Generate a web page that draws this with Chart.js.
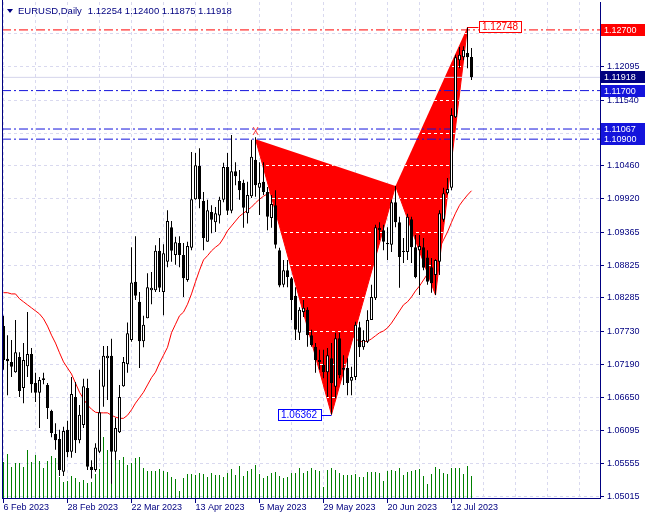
<!DOCTYPE html>
<html>
<head>
<meta charset="utf-8">
<script src="https://cdn.jsdelivr.net/npm/chart.js@4.4.0/dist/chart.umd.min.js"></script>
<style>
  html, body { margin: 0; padding: 0; background: #ffffff; }
  #wrap { width: 646px; height: 520px; }
</style>
</head>
<body>
<div id="wrap"><canvas id="chart" width="646" height="520"></canvas></div>
<script>
const symbolTitle = 'EURUSD,Daily';
const lastQuote = ['1.12254', '1.12400', '1.11875', '1.11918'];

// one label every 16 daily bars, starting at bar 0
const dateLabels = ['6 Feb 2023', '28 Feb 2023', '22 Mar 2023', '13 Apr 2023', '5 May 2023', '29 May 2023', '20 Jun 2023', '12 Jul 2023'];
const priceTicks = [1.05015, 1.05555, 1.06095, 1.06650, 1.07190, 1.07730, 1.08285, 1.08825, 1.09365, 1.09920, 1.10460, 1.11000, 1.11540, 1.12095, 1.12635];

const opens = [
  1.0782, 1.0728, 1.0723, 1.0706, 1.0731, 1.0680, 1.0716, 1.0736, 1.0688, 1.0672,
  1.0693, 1.0685, 1.0642, 1.0604, 1.0596, 1.0542, 1.0611, 1.0575, 1.0665, 1.0594,
  1.0619, 1.0680, 1.0550, 1.0545, 1.0575, 1.0682, 1.0729, 1.0733, 1.0575, 1.0607,
  1.0683, 1.0719, 1.0759, 1.0855, 1.0822, 1.0757, 1.0795, 1.0841, 1.0841, 1.0906,
  1.0838, 1.0888, 1.0945, 1.0899, 1.0919, 1.0899, 1.0858, 1.0911, 1.0991, 1.1046,
  1.0988, 1.0921, 1.0970, 1.0953, 1.0964, 1.0990, 1.1044, 1.0972, 1.1037, 1.1021,
  1.1018, 1.0968, 1.0996, 1.1056, 1.1010, 1.1020, 1.1003, 1.0960, 1.0981, 1.0907,
  1.0850, 1.0874, 1.0861, 1.0832, 1.0771, 1.0805, 1.0809, 1.0767, 1.0748, 1.0726,
  1.0718, 1.0706, 1.0729, 1.0682, 1.0762, 1.0713, 1.0713, 1.0692, 1.0698, 1.0780,
  1.0747, 1.0756, 1.0792, 1.0828, 1.0944, 1.0940, 1.0917, 1.0916, 1.0986, 1.0953,
  1.0904, 1.0904, 1.0958, 1.0912, 1.0907, 1.0912, 1.0895, 1.0879, 1.0866, 1.0888,
  1.0957, 1.1001, 1.1010, 1.1126, 1.1220, 1.1225, 1.1232, 1.12254
];
const highs = [
  1.0799, 1.0767, 1.0759, 1.0792, 1.0739, 1.0754, 1.0805, 1.0746, 1.0705, 1.0698,
  1.0705, 1.0688, 1.0644, 1.0622, 1.0611, 1.0616, 1.0626, 1.0698, 1.0690, 1.0652,
  1.0695, 1.0695, 1.0561, 1.0589, 1.0710, 1.0749, 1.0749, 1.0761, 1.0631, 1.0685,
  1.0731, 1.0788, 1.0912, 1.0930, 1.0838, 1.0799, 1.0869, 1.0871, 1.0915, 1.0927,
  1.0917, 1.0973, 1.0955, 1.0929, 1.0930, 1.0919, 1.0921, 1.1069, 1.1067, 1.1075,
  1.1003, 1.0990, 1.0981, 1.0978, 1.0995, 1.1051, 1.1067, 1.1097, 1.1052, 1.1039,
  1.1023, 1.1020, 1.1089, 1.1093, 1.1052, 1.1052, 1.1011, 1.0998, 1.1006, 1.0911,
  1.0891, 1.0891, 1.0863, 1.0846, 1.0813, 1.0825, 1.0813, 1.0776, 1.0754, 1.0743,
  1.0743, 1.0746, 1.0754, 1.0771, 1.0771, 1.0734, 1.0729, 1.0715, 1.0789, 1.0789,
  1.0775, 1.0808, 1.0850, 1.0949, 1.0953, 1.0949, 1.0945, 1.0990, 1.1013, 1.0962,
  1.0927, 1.0967, 1.0962, 1.0932, 1.0932, 1.0927, 1.0907, 1.0894, 1.0892, 1.0973,
  1.1010, 1.1026, 1.1141, 1.1229, 1.1242, 1.1243, 1.12748, 1.12400
];
const lows = [
  1.0710, 1.0668, 1.0698, 1.0705, 1.0665, 1.0655, 1.0698, 1.0672, 1.0657, 1.0614,
  1.0686, 1.0629, 1.0599, 1.0578, 1.0535, 1.0535, 1.0566, 1.0565, 1.0573, 1.0589,
  1.0614, 1.0545, 1.0531, 1.0542, 1.0573, 1.0649, 1.0660, 1.0522, 1.0561, 1.0606,
  1.0682, 1.0705, 1.0756, 1.0825, 1.0713, 1.0747, 1.0795, 1.0818, 1.0838, 1.0838,
  1.0800, 1.0879, 1.0888, 1.0883, 1.0879, 1.0830, 1.0855, 1.0907, 1.0990, 1.0976,
  1.0907, 1.0921, 1.0935, 1.0937, 1.0951, 1.0986, 1.0965, 1.0968, 1.1014, 1.0990,
  1.0944, 1.0951, 1.0993, 1.0995, 1.0965, 1.0998, 1.0940, 1.0944, 1.0910, 1.0846,
  1.0846, 1.0846, 1.0792, 1.0759, 1.0759, 1.0797, 1.0748, 1.0748, 1.0705, 1.0710,
  1.0696, 1.0665, 1.06362, 1.0663, 1.0696, 1.0685, 1.0668, 1.0668, 1.0693, 1.0731,
  1.0743, 1.0754, 1.0792, 1.0825, 1.0924, 1.0907, 1.0891, 1.0904, 1.0945, 1.0845,
  1.0886, 1.0891, 1.0886, 1.0861, 1.0833, 1.0874, 1.0850, 1.0837, 1.0833, 1.0866,
  1.0954, 1.0999, 1.1006, 1.1125, 1.1207, 1.1220, 1.1207, 1.11875
];
const closes = [
  1.0726, 1.0724, 1.0715, 1.0739, 1.0675, 1.0726, 1.0736, 1.0686, 1.0672, 1.0693,
  1.0696, 1.0647, 1.0606, 1.0594, 1.0545, 1.0609, 1.0574, 1.0670, 1.0594, 1.0636,
  1.0683, 1.0550, 1.0545, 1.0582, 1.0640, 1.0733, 1.0733, 1.0575, 1.0614, 1.0665,
  1.0723, 1.0770, 1.0854, 1.0832, 1.0757, 1.0784, 1.0846, 1.0845, 1.0906, 1.0845,
  1.0902, 1.0955, 1.0906, 1.0920, 1.0899, 1.0861, 1.0914, 1.0991, 1.1047, 1.0991,
  1.0927, 1.0973, 1.0957, 1.0968, 1.0990, 1.1044, 1.0972, 1.1037, 1.1029, 1.1006,
  1.0977, 1.0998, 1.1061, 1.1014, 1.1018, 1.1003, 1.0962, 1.0983, 1.0916, 1.0849,
  1.0874, 1.0863, 1.0825, 1.0776, 1.0809, 1.0812, 1.0767, 1.0751, 1.0726, 1.0723,
  1.0706, 1.0734, 1.0688, 1.0762, 1.0701, 1.0710, 1.0688, 1.0698, 1.0784, 1.0747,
  1.0759, 1.0792, 1.0830, 1.0945, 1.0940, 1.0921, 1.0919, 1.0986, 1.0953, 1.0896,
  1.0906, 1.0962, 1.0912, 1.0863, 1.0914, 1.0878, 1.0855, 1.0853, 1.0891, 1.0968,
  1.1001, 1.1008, 1.1130, 1.1225, 1.1229, 1.1237, 1.1225, 1.11918
];
const volumes = [
  72000, 88000, 62000, 70000, 70000, 62000, 96000, 72000, 86000, 74000,
  60000, 74000, 84000, 80000, 42000, 32000, 34000, 44000, 40000, 32000,
  36000, 30000, 32000, 48000, 58000, 122000, 96000, 84000, 86000, 76000,
  82000, 66000, 70000, 80000, 82000, 60000, 54000, 54000, 54000, 58000,
  54000, 52000, 42000, 38000, 14000, 40000, 48000, 48000, 46000, 50000,
  48000, 42000, 50000, 46000, 46000, 42000, 50000, 58000, 46000, 64000,
  44000, 54000, 58000, 66000, 48000, 40000, 44000, 50000, 52000, 44000,
  40000, 42000, 50000, 50000, 60000, 50000, 54000, 60000, 56000, 54000,
  22000, 56000, 60000, 56000, 50000, 46000, 46000, 46000, 48000, 42000,
  42000, 52000, 52000, 52000, 50000, 34000, 54000, 56000, 54000, 60000,
  46000, 52000, 54000, 56000, 58000, 44000, 28000, 48000, 62000, 58000,
  50000, 48000, 60000, 60000, 60000, 48000, 64000, 44000
];
const movingAvg = [
  1.0837, 1.0837, 1.0835, 1.0835, 1.0827, 1.0822, 1.0817, 1.0812, 1.0807, 1.0802,
  1.0794, 1.0782, 1.0767, 1.0754, 1.0738, 1.0723, 1.0713, 1.0703, 1.0688, 1.0673,
  1.0662, 1.0652, 1.0645, 1.0640, 1.0639, 1.0639, 1.0639, 1.0635, 1.0632, 1.0630,
  1.0630, 1.0635, 1.0644, 1.0655, 1.0664, 1.0673, 1.0685, 1.0697, 1.0706, 1.0721,
  1.0734, 1.0747, 1.0771, 1.0785, 1.0799, 1.0805, 1.0818, 1.0835, 1.0855, 1.0874,
  1.0891, 1.0898, 1.0906, 1.0912, 1.0917, 1.0927, 1.0939, 1.0947, 1.0955, 1.0963,
  1.0968, 1.0973, 1.0978, 1.0985, 1.0991, 1.0996, 1.1000, 1.1003, 1.1001, 1.0996,
  1.0990, 1.0981, 1.0970, 1.0957, 1.0944, 1.0930, 1.0916, 1.0901, 1.0886, 1.0871,
  1.0856, 1.0841, 1.0827, 1.0812, 1.0799, 1.0787, 1.0776, 1.0767, 1.0761, 1.0757,
  1.0756, 1.0757, 1.0761, 1.0766, 1.0771, 1.0774, 1.0779, 1.0787, 1.0797, 1.0807,
  1.0817, 1.0822, 1.0830, 1.0840, 1.0848, 1.0858, 1.0868, 1.0881, 1.0896, 1.0911,
  1.0924, 1.0937, 1.0953, 1.0968, 1.0981, 1.0990, 1.0998, 1.1005
];

// harmonic pattern X, A, B, C, D (bar index / price)
const patternIdx = [63, 82, 98, 108, 116];
const patternVal = [1.1090, 1.06362, 1.1013, 1.0833, 1.12748];

const levelVals = [1.12700, 1.11700, 1.11067, 1.10900];
const levelColors = ['#ff0000', '#1414dc', '#1414dc', '#1414dc'];
const bidVal = 1.11918;

const xMin = -0.375, xMax = 149.125;
const yMin = 1.04987, yMax = 1.13160;
const navy = '#000080';
const gridColor = '#d9d9ef';
const fontFamily = '"Liberation Sans", Arial, sans-serif';

const gridIdx = [];
for (let i = 0; i <= 144; i += 8) gridIdx.push(i);

const pt = (i, v) => ({x: i, y: v});
const isUp = i => closes[i] >= opens[i];

const patternPts = patternIdx.map((i, k) => pt(i, patternVal[k]));

const datasets = [
  {
    type: 'line', label: 'MA', order: 60,
    data: movingAvg.map((v, i) => pt(i, v)),
    borderColor: '#ff0000', borderWidth: 1, pointRadius: 0, tension: 0, fill: false
  },
  {
    type: 'line', label: 'XAB', order: 50, gridOverlay: true,
    data: patternPts.slice(0, 3),
    borderColor: '#ff0000', backgroundColor: '#ff0000', borderWidth: 1, pointRadius: 0, fill: 'shape'
  },
  {
    type: 'line', label: 'BCD', order: 50, gridOverlay: true,
    data: patternPts.slice(2, 5),
    borderColor: '#ff0000', backgroundColor: '#ff0000', borderWidth: 1, pointRadius: 0, fill: 'shape'
  },
  {
    type: 'line', label: 'bid', order: 45,
    data: [pt(xMin, bidVal), pt(xMax, bidVal)],
    borderColor: '#d6d6ec', borderWidth: 1, pointRadius: 0, fill: false
  },
  ...levelVals.map((v, k) => ({
    type: 'line', label: 'level' + k, order: 40,
    data: [pt(xMin, v), pt(xMax, v)],
    borderColor: levelColors[k], borderWidth: 1, borderDash: [9, 3, 2, 3], pointRadius: 0, fill: false
  })),
  {
    type: 'bar', label: 'Volume', order: 30, yAxisID: 'yv',
    data: volumes.map((v, i) => pt(i, v)),
    backgroundColor: '#008000', barThickness: 1, grouped: false, inflateAmount: 0
  },
  {
    type: 'bar', label: 'Wick', order: 20,
    data: highs.map((h, i) => pt(i, [lows[i], h])),
    backgroundColor: '#000000', barThickness: 1, grouped: false, inflateAmount: 0, minBarLength: 1
  },
  {
    type: 'bar', label: 'Body', order: 10,
    data: opens.map((o, i) => pt(i, [o, closes[i]])),
    backgroundColor: c => isUp(c.dataIndex) ? '#ffffff' : '#000000',
    borderColor: '#000000', borderWidth: 1, borderSkipped: false,
    barThickness: 3, grouped: false, inflateAmount: 0, minBarLength: 1
  }
];

const alignPx = p => Math.round(p - 0.5) + 0.5;

const drawBoxLabel = (ctx, text, left, cy, w, bg, border, color) => {
  const top = Math.round(cy - 6);
  ctx.fillStyle = bg;
  ctx.fillRect(left, top, w, 12);
  if (border) {
    ctx.strokeStyle = border;
    ctx.lineWidth = 1;
    ctx.strokeRect(left + 0.5, top + 0.5, w - 1, 11);
  }
  ctx.fillStyle = color;
  ctx.textBaseline = 'middle';
  ctx.textAlign = 'left';
  ctx.fillText(text, left + 3, top + 6.5);
};

// keep the plot edge-to-edge like the terminal window
const noEdgePadding = s => {
  s.paddingTop = 0;
  s.paddingBottom = 0;
  s.paddingLeft = 0;
  s.paddingRight = 0;
};

const mtPlugin = {
  id: 'mtExtras',
  afterDatasetDraw(chart, args) {
    const ds = chart.data.datasets[args.index];
    if (!ds.gridOverlay) return;
    const {ctx, chartArea} = chart;
    const pts = args.meta.data;
    ctx.save();
    ctx.beginPath();
    pts.forEach((p, k) => k ? ctx.lineTo(p.x, p.y) : ctx.moveTo(p.x, p.y));
    ctx.closePath();
    ctx.clip();
    ctx.strokeStyle = '#ffffff';
    ctx.lineWidth = 1;
    ctx.setLineDash([3, 3]);
    priceTicks.forEach(v => {
      const py = alignPx(chart.scales.y.getPixelForValue(v));
      ctx.beginPath();
      ctx.moveTo(chartArea.left, py);
      ctx.lineTo(chartArea.right, py);
      ctx.stroke();
    });
    ctx.restore();
  },
  afterDraw(chart) {
    const {ctx, chartArea: a} = chart;
    const xs = chart.scales.x, ys = chart.scales.y;
    ctx.save();
    ctx.setLineDash([]);
    ctx.lineWidth = 1;
    ctx.strokeStyle = navy;

    // left frame and tick marks
    ctx.beginPath();
    ctx.moveTo(a.left + 0.5, 0);
    ctx.lineTo(a.left + 0.5, a.bottom);
    priceTicks.forEach(v => {
      const py = alignPx(ys.getPixelForValue(v));
      ctx.moveTo(a.right, py);
      ctx.lineTo(a.right + 4, py);
    });
    dateLabels.forEach((_, k) => {
      const px = alignPx(xs.getPixelForValue(k * 16));
      ctx.moveTo(px, a.bottom);
      ctx.lineTo(px, a.bottom + 5);
    });
    ctx.stroke();

    // price labels of the horizontal lines
    ctx.font = '9px ' + fontFamily;
    drawBoxLabel(ctx, bidVal.toFixed(5), a.right + 1, ys.getPixelForValue(bidVal), 44, navy, null, '#ffffff');
    for (let k = levelVals.length - 1; k >= 0; k--) {
      drawBoxLabel(ctx, levelVals[k].toFixed(5), a.right + 1, ys.getPixelForValue(levelVals[k]), 44, levelColors[k], null, '#ffffff');
    }

    // pattern labels
    ctx.font = '10px ' + fontFamily;
    const xPx = xs.getPixelForValue(patternIdx[0]);
    const xPy = ys.getPixelForValue(patternVal[0]);
    ctx.fillStyle = '#ff3c3c';
    ctx.textAlign = 'center';
    ctx.textBaseline = 'middle';
    ctx.fillText('X', xPx, xPy - 7);

    const dPx = xs.getPixelForValue(patternIdx[4]);
    const dPy = ys.getPixelForValue(patternVal[4]);
    ctx.strokeStyle = '#ff0000';
    ctx.beginPath();
    ctx.moveTo(dPx, Math.round(dPy) + 0.5);
    ctx.lineTo(dPx + 11, Math.round(dPy) + 0.5);
    ctx.stroke();
    drawBoxLabel(ctx, patternVal[4].toFixed(5), Math.round(dPx + 11), dPy, 43, '#ffffff', '#ff0000', '#ff0000');

    const aPx = xs.getPixelForValue(patternIdx[1]);
    const aPy = ys.getPixelForValue(patternVal[1]);
    ctx.strokeStyle = '#0000ff';
    ctx.beginPath();
    ctx.moveTo(aPx, Math.round(aPy) + 0.5);
    ctx.lineTo(aPx - 10, Math.round(aPy) + 0.5);
    ctx.stroke();
    drawBoxLabel(ctx, patternVal[1].toFixed(5), Math.round(aPx - 10 - 44), aPy, 44, '#ffffff', '#0000ff', '#0000ff');

    // header
    ctx.fillStyle = navy;
    ctx.beginPath();
    ctx.moveTo(7, 9);
    ctx.lineTo(13, 9);
    ctx.lineTo(10, 13);
    ctx.closePath();
    ctx.fill();
    ctx.font = '9.5px ' + fontFamily;
    ctx.textAlign = 'left';
    ctx.textBaseline = 'middle';
    ctx.fillText(symbolTitle, 18, 11);
    const w = ctx.measureText(symbolTitle).width;
    ctx.fillText(lastQuote.join(' '), 18 + w + 6, 11);
    ctx.restore();
  }
};

new Chart('chart', {
  type: 'bar',
  data: {datasets},
  options: {
    responsive: false,
    animation: false,
    events: [],
    layout: {padding: {left: 2, top: 2, right: 0, bottom: 0}},
    plugins: {legend: {display: false}, tooltip: {enabled: false}},
    scales: {
      x: {
        type: 'linear', min: xMin, max: xMax, offset: false,
        afterBuildTicks: s => { s.ticks = gridIdx.map(v => ({value: v})); },
        afterFit: s => { s.height = 22; noEdgePadding(s); },
        grid: {color: gridColor, drawTicks: false, offset: false},
        border: {color: navy, dash: [3, 3]},
        ticks: {
          autoSkip: false, maxRotation: 0, align: 'start', padding: 4, color: navy,
          font: {family: fontFamily, size: 9},
          callback: v => (v % 16 === 0 && dateLabels[v / 16]) || ''
        }
      },
      y: {
        position: 'right', min: yMin, max: yMax,
        afterBuildTicks: s => { s.ticks = priceTicks.map(v => ({value: v})); },
        afterFit: s => { s.width = 46; noEdgePadding(s); },
        grid: {color: gridColor, drawTicks: false},
        border: {color: navy, dash: [3, 3]},
        ticks: {
          autoSkip: false, padding: 7, color: navy,
          font: {family: fontFamily, size: 9},
          callback: v => v.toFixed(5)
        }
      },
      yv: {display: false, min: 0, max: 992000}
    }
  },
  plugins: [mtPlugin]
});
</script>
</body>
</html>
